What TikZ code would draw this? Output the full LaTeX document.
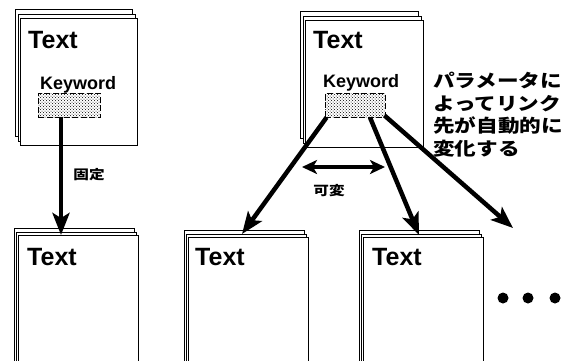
\documentclass[tikz,border=0pt]{standalone}
\usepackage{fontspec}
\setmainfont{Liberation Sans}
\newfontfamily\jp[FakeStretch=1.2]{Noto Sans CJK JP}
\usetikzlibrary{arrows.meta,shadows,patterns}
\begin{document}
\begin{tikzpicture}[x=1pt,y=-1pt,
  pagebase/.style={draw, line width=0.9pt, fill=white, inner sep=0, anchor=north west, minimum width=117pt},
  pagetop/.style={pagebase, minimum height=127pt,
     double copy shadow={shadow xshift=-2.5pt, shadow yshift=4.5pt, draw=black, fill=white, line width=0.7pt}},
  pagebot/.style={pagebase, minimum height=140pt,
     double copy shadow={shadow xshift=-2pt, shadow yshift=3.5pt, draw=black, fill=white, line width=0.7pt}},
  ttl/.style={inner sep=0, anchor=base west, font=\bfseries\fontsize{25}{30}\selectfont},
  kwtext/.style={inner sep=0, anchor=base west, font=\bfseries\fontsize{18}{22}\selectfont},
  kwbox/.style={draw, line width=0.9pt, dash pattern=on 6pt off 2.5pt, pattern=crosshatch dots, pattern color=black, minimum width=62pt, minimum height=24pt, inner sep=0},
  bigarrow/.style={line width=4.5pt, -{Stealth[length=22pt,width=17pt,inset=5pt]}},
  jplabel/.style={inner sep=0, font=\jp\bfseries\fontsize{13}{15}\selectfont},
  dot/.style={circle, fill=black, minimum size=11pt, inner sep=0}
]
\clip (0,0) rectangle (567,360);
\fill[white] (0,0) rectangle (567,360);

% pages
\node[pagetop] (p1) at (20,18) {};
\node[pagetop, minimum width=118pt] (p4) at (305,20) {};
\node[pagebot, minimum width=120pt] (p2) at (18,235) {};
\node[pagebot, minimum width=120pt] (p3) at (188,237) {};
\node[pagebot, minimum width=120pt] (p5) at (363,237) {};

% titles
\node[ttl] (t1) at (28,48) {Text};
\node[ttl] (t4) at (313,48) {Text};
\node[ttl] (t2) at (27,265) {Text};
\node[ttl] (t3) at (195,265) {Text};
\node[ttl] (t5) at (372,265) {Text};

% keywords
\node[kwtext] (k1) at (40,89) {Keyword};
\node[kwtext] (k4) at (323,87) {Keyword};
\node[kwbox] (kw1) at (69,105) {};
\node[kwbox, minimum width=60pt] (kw4) at (355,105) {};

% arrows
\coordinate (e2) at (61,235);
\coordinate (e3) at (242,234);
\coordinate (e5) at (419,235);
\coordinate (e6) at (513,228);
\draw[bigarrow] ([xshift=-8pt]kw1.south) -- (e2);
\draw[bigarrow] ([xshift=2pt]kw4.south west) -- (e3);
\draw[bigarrow] ([xshift=15pt]kw4.south) -- (e5);
\draw[bigarrow] ([xshift=-1pt,yshift=2pt]kw4.south east) -- (e6);

% variable range arrow
\coordinate (v1) at (302,167);
\coordinate (v2) at (385,167);
\draw[line width=3.5pt, {Stealth[length=15pt,width=14pt,inset=4pt]}-{Stealth[length=15pt,width=14pt,inset=4pt]}] (v1) -- (v2);

% labels
\node[jplabel] (l1) at (89,175) {固定};
\node[jplabel] (l2) at (329,191) {可変};
\node[inner sep=0, anchor=north west, align=left, font=\jp\bfseries\fontsize{18}{22.5}\selectfont] (note) at (433,72)
  {パラメータに\\よってリンク\\先が自動的に\\変化する};

% dots
\node[dot] (d1) at (503,298) {};
\node[dot] (d2) at (528,298) {};
\node[dot] (d3) at (555,298) {};
\end{tikzpicture}
\end{document}
